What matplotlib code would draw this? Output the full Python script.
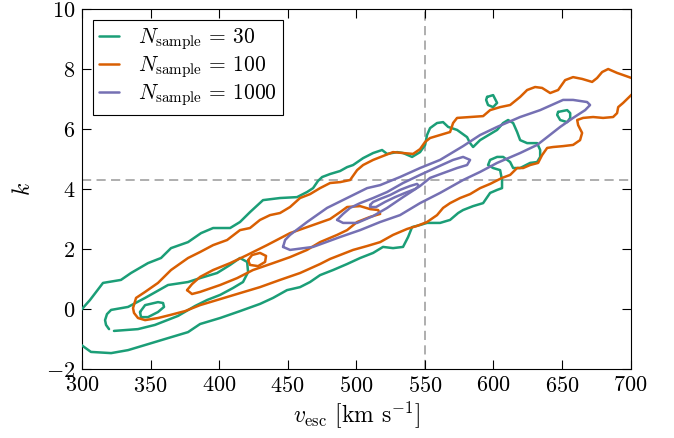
import numpy as np
import matplotlib
matplotlib.use("Agg")
import matplotlib.pyplot as plt

plt.rcParams.update({
    "font.family": "serif",
    "font.serif": ["cmr10"],
    "mathtext.fontset": "cm",
    "axes.formatter.use_mathtext": True,
    "axes.unicode_minus": True,
    "font.size": 16,
})

# iso-density contours of the (v_esc, k) posterior, traced per sample size
# N_sample = 30
n30_outer_v = [298.0, 305.8, 315.3, 328.4, 335.7, 348.1, 357.6, 364.9, 377.3, 386.8,
               395.6, 408.0, 415.2, 422.5, 432.0, 444.4, 456.8, 464.1, 468.5, 472.1,
               475.1, 480.9, 488.2, 493.3, 497.7, 505.0, 512.3, 518.8, 522.5, 529.8,
               534.1, 540.7, 546.5, 550.2, 551.6, 553.8, 558.9, 563.3, 567.0, 573.5,
               580.8, 583.0, 585.2, 590.3, 602.7, 607.1, 610.7, 614.4, 617.3, 619.5,
               624.6, 631.9, 634.1, 634.1, 631.9, 626.8, 619.5, 614.4, 612.2, 607.1,
               602.7, 597.6, 596.1, 599.8, 604.9, 606.3, 606.3, 602.7, 597.6, 592.5,
               585.2, 577.9, 574.3, 568.4, 561.1, 551.6, 546.5, 540.7, 537.8, 534.1,
               526.8, 519.5, 512.3, 502.8, 493.3, 483.1, 473.6, 466.3, 459.0, 449.5,
               439.3, 429.8, 415.2, 400.7, 386.1, 377.3, 362.7, 346.0, 333.6, 321.2,
               306.5, 298.0]
n30_outer_k = [-0.10, 0.30, 0.87, 0.97, 1.20, 1.53, 1.70, 2.03, 2.23, 2.53,
               2.70, 2.70, 2.90, 3.23, 3.63, 3.70, 3.73, 3.90, 4.03, 4.27,
               4.40, 4.50, 4.60, 4.73, 4.80, 5.03, 5.20, 5.30, 5.17, 5.23,
               5.20, 5.07, 5.23, 5.47, 5.80, 6.03, 6.20, 6.23, 6.07, 5.97,
               5.73, 5.53, 5.40, 5.63, 5.97, 6.20, 6.30, 6.20, 5.90, 5.63,
               5.53, 5.53, 5.30, 5.07, 4.90, 4.87, 4.70, 4.70, 4.90, 5.07,
               5.07, 4.97, 4.80, 4.70, 4.63, 4.30, 4.03, 3.97, 3.87, 3.53,
               3.43, 3.30, 3.20, 2.97, 2.87, 2.87, 2.80, 2.73, 2.40, 2.07,
               2.03, 2.07, 1.87, 1.70, 1.50, 1.30, 1.13, 0.90, 0.73, 0.63,
               0.37, 0.17, -0.07, -0.30, -0.50, -0.77, -0.97, -1.20, -1.37, -1.47,
               -1.43, -1.15]
n30_mid_v = [319.7, 317.5, 316.8, 318.2, 321.2, 333.6, 346.0, 362.7, 377.3, 386.1,
             398.5, 408.0, 415.2, 420.4, 421.1, 417.4, 410.1, 400.7, 391.2, 382.4,
             370.0, 353.2, 340.8, 323.3]
n30_mid_k = [-0.67, -0.53, -0.37, -0.17, -0.03, 0.07, 0.37, 0.80, 0.90, 1.03,
             1.20, 1.47, 1.70, 1.57, 1.23, 0.90, 0.70, 0.47, 0.30, 0.10,
             -0.23, -0.53, -0.67, -0.73]
n30_blobs = [
    ([342.3, 346.0, 355.4, 359.1, 359.8, 355.4, 348.1, 343.0],
     [-0.10, 0.13, 0.23, 0.20, 0.07, -0.10, -0.27, -0.27]),
    ([595.4, 599.8, 602.7, 599.8, 596.1, 594.7],
     [7.07, 7.13, 6.87, 6.73, 6.80, 6.97]),
    ([647.2, 653.8, 656.0, 656.0, 653.8, 648.7, 646.5],
     [6.57, 6.63, 6.53, 6.37, 6.23, 6.30, 6.47]),
]

# N_sample = 100
n100_outer_v = [702.0, 694.6, 690.2, 683.7, 679.3, 675.6, 672.0, 664.7, 658.1, 652.3,
                647.2, 641.4, 635.5, 630.4, 624.6, 619.5, 612.2, 604.9, 597.6, 592.5,
                583.0, 573.5, 570.6, 568.4, 561.1, 553.8, 550.2, 546.5, 541.4, 534.1,
                526.8, 519.5, 512.3, 505.0, 500.6, 495.5, 488.2, 480.9, 473.6, 466.3,
                459.0, 451.7, 444.4, 437.1, 429.8, 422.5, 415.2, 405.8, 395.6, 386.1,
                377.3, 364.9, 355.4, 346.0, 339.4, 337.2, 337.9, 340.8, 346.0, 355.4,
                364.2, 375.1, 386.1, 400.7, 415.2, 429.8, 444.4, 459.0, 473.6, 480.9,
                488.2, 497.7, 507.9, 517.4, 526.8, 537.1, 544.3, 551.6, 558.9, 563.3,
                568.4, 575.7, 583.0, 590.3, 597.6, 606.3, 612.2, 617.3, 621.7, 626.8,
                632.6, 635.5, 639.2, 643.5, 650.8, 658.1, 663.2, 664.7, 661.8, 661.1,
                665.4, 672.7, 680.0, 687.3, 690.2, 691.0, 694.6, 702.0]
n100_outer_k = [7.68, 7.80, 7.87, 8.00, 7.90, 7.70, 7.57, 7.67, 7.73, 7.63,
                7.30, 7.20, 7.37, 7.40, 7.30, 7.07, 6.80, 6.73, 6.63, 6.43,
                6.40, 6.37, 6.20, 5.90, 5.80, 5.70, 5.57, 5.33, 5.17, 5.20,
                5.23, 5.10, 4.97, 4.80, 4.63, 4.30, 4.23, 4.20, 4.03, 3.83,
                3.70, 3.40, 3.20, 3.13, 2.97, 2.70, 2.63, 2.30, 2.13, 1.90,
                1.70, 1.30, 0.87, 0.57, 0.37, 0.03, -0.13, -0.30, -0.37, -0.30,
                -0.20, -0.07, 0.13, 0.33, 0.53, 0.73, 0.97, 1.20, 1.50, 1.67,
                1.80, 1.97, 2.10, 2.23, 2.47, 2.67, 2.77, 2.90, 3.13, 3.37,
                3.53, 3.70, 3.83, 4.03, 4.17, 4.37, 4.47, 4.70, 4.70, 4.80,
                4.87, 5.13, 5.37, 5.40, 5.43, 5.47, 5.63, 5.87, 6.13, 6.30,
                6.37, 6.40, 6.37, 6.40, 6.53, 6.73, 6.87, 7.20]
n100_mid_v = [376.6, 380.2, 386.1, 395.6, 408.0, 420.4, 434.9, 451.7, 468.5, 480.9,
              488.2, 493.3, 502.8, 510.1, 515.9, 517.4, 510.1, 500.6, 493.3, 486.0,
              473.6, 464.1, 451.7, 439.3, 424.7, 413.1, 400.7, 386.1, 380.2]
n100_mid_k = [0.63, 0.83, 1.07, 1.30, 1.53, 1.80, 2.13, 2.53, 2.80, 3.00,
              3.23, 3.40, 3.43, 3.33, 3.30, 3.17, 3.07, 2.90, 2.63, 2.47,
              2.23, 1.97, 1.73, 1.53, 1.30, 1.03, 0.80, 0.57, 0.50]
n100_blob_v = [421.1, 424.0, 429.8, 434.2, 433.5, 428.4, 422.5]
n100_blob_k = [1.63, 1.80, 1.87, 1.77, 1.57, 1.43, 1.47]

# N_sample = 1000
n1000_outer_v = [446.6, 448.1, 451.7, 464.1, 478.7, 493.3, 507.9, 517.4, 531.9, 546.5,
                 561.1, 577.9, 590.3, 602.7, 619.5, 634.1, 650.8, 658.1, 668.3, 670.5,
                 666.9, 658.1, 648.7, 639.2, 631.9, 619.5, 602.7, 590.3, 577.9, 561.1,
                 546.5, 531.9, 517.4, 502.8, 488.2, 468.5, 451.7]
n1000_outer_k = [2.07, 2.30, 2.47, 2.90, 3.37, 3.70, 4.03, 4.13, 4.40, 4.70,
                 4.97, 5.43, 5.80, 6.07, 6.40, 6.63, 6.97, 6.97, 6.90, 6.80,
                 6.63, 6.37, 6.07, 5.73, 5.47, 5.20, 4.87, 4.57, 4.30, 3.87,
                 3.53, 3.13, 2.90, 2.63, 2.40, 2.07, 1.97]
n1000_mid_v = [486.0, 490.4, 495.5, 502.8, 512.3, 522.5, 534.1, 546.5, 558.9, 570.6,
               577.9, 583.0, 580.8, 573.5, 563.3, 553.8, 546.5, 534.1, 522.5, 512.3,
               500.6, 490.4]
n1000_mid_k = [2.97, 3.17, 3.37, 3.53, 3.70, 3.90, 4.20, 4.47, 4.73, 4.97,
               5.07, 4.97, 4.80, 4.70, 4.53, 4.37, 4.10, 3.73, 3.37, 3.10,
               2.87, 2.87]
n1000_inner_v = [510.1, 512.3, 517.4, 524.7, 531.9, 539.2, 544.3, 545.8, 542.9, 535.6,
                 528.3, 521.0, 514.4, 510.1]
n1000_inner_k = [3.47, 3.57, 3.67, 3.80, 3.97, 4.10, 4.17, 4.10, 4.00, 3.87,
                 3.73, 3.57, 3.40, 3.40]

vesc_true = 550.0
k_true = 4.3

c30, c100, c1000 = "#1b9e77", "#d95f02", "#7570b3"
lw = 1.8


def draw(ax, v, k, color, closed=True, label=None):
    v = np.asarray(v)
    k = np.asarray(k)
    if closed:
        v = np.append(v, v[0])
        k = np.append(k, k[0])
    ax.plot(v, k, color=color, lw=lw, label=label, solid_joinstyle="round",
            solid_capstyle="round", zorder=3)


fig = plt.figure(figsize=(6.74, 4.38), dpi=100)
ax = fig.add_axes([0.1217, 0.1575, 0.8138, 0.8219])

ax.axvline(vesc_true, color="#999999", lw=1.1, ls=(0, (6, 3.5)), zorder=1)
ax.axhline(k_true, color="#999999", lw=1.1, ls=(0, (6, 3.5)), zorder=1)

draw(ax, n30_outer_v, n30_outer_k, c30, closed=False,
     label=r"$N_{\rm sample}\,=\,30$")
draw(ax, n30_mid_v, n30_mid_k, c30, closed=False)
for bv, bk in n30_blobs:
    draw(ax, bv, bk, c30)

draw(ax, n100_outer_v, n100_outer_k, c100, closed=False,
     label=r"$N_{\rm sample}\,=\,100$")
draw(ax, n100_mid_v, n100_mid_k, c100)
draw(ax, n100_blob_v, n100_blob_k, c100)

draw(ax, n1000_outer_v, n1000_outer_k, c1000,
     label=r"$N_{\rm sample}\,=\,1000$")
draw(ax, n1000_mid_v, n1000_mid_k, c1000)
draw(ax, n1000_inner_v, n1000_inner_k, c1000)

ax.set_xlim(300, 700)
ax.set_ylim(-2, 10)
ax.set_xticks(np.arange(300, 701, 50))
ax.set_yticks(np.arange(-2, 11, 2))
ax.tick_params(direction="in", top=True, right=True, length=6.5, width=0.8,
               pad=5)
for sp in ax.spines.values():
    sp.set_linewidth(0.8)

ax.set_xlabel(r"$v_{\rm esc}$ [km s$^{-1}$]", fontsize=17, labelpad=2)
ax.set_ylabel(r"$k$", fontsize=17, labelpad=8)

leg = ax.legend(loc="upper left", fancybox=False, framealpha=1,
                edgecolor="black", fontsize=15.5, handlelength=0.93,
                handletextpad=0.85, labelspacing=0.1, borderpad=0.3,
                borderaxespad=0.5)
leg.get_frame().set_linewidth(0.8)

fig.savefig("out.png", dpi=100)
